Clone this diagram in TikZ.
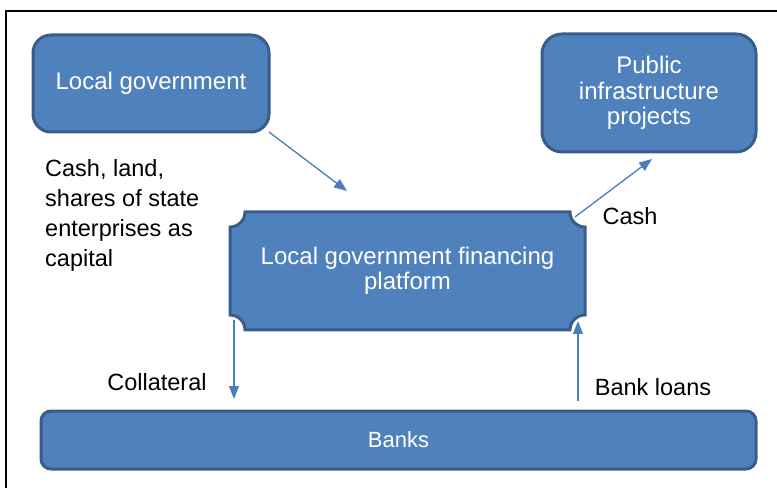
\documentclass[tikz,border=0pt]{standalone}
\usepackage{fontspec}
\setmainfont{Liberation Sans}
\usetikzlibrary{arrows.meta,backgrounds,calc}
\definecolor{boxfill}{HTML}{4F81BD}
\definecolor{boxline}{HTML}{385D8A}
\definecolor{flowline}{HTML}{4A7EBB}

\begin{document}
\begin{tikzpicture}[x=1pt,y=1pt]
    \tikzstyle{box}=[fill=boxfill,draw=boxline,line width=3pt,text=white,align=center,inner sep=0pt,outer sep=0pt,font=\fontsize{24}{25.5}\selectfont]
    \tikzstyle{plaque}=[fill=boxfill,draw=boxline,line width=3pt]
    \tikzstyle{flow}=[draw=flowline,line width=1.3pt,-{Triangle[length=13pt,width=10pt]}]
    \tikzstyle{note}=[inner sep=0pt,align=left,font=\fontsize{23.5}{30}\selectfont]
    \useasboundingbox (0,0) rectangle (777,488);
    \draw[line width=1.2pt] (6,0) -- (6,477) -- (777,477);
    \node[box,rounded corners=18pt,minimum width=236pt,minimum height=97pt] (lg) at (151,404.5) {Local government};
    \node[box,rounded corners=20pt,minimum width=214pt,minimum height=118pt,text depth=5pt] (pub) at (649,395) {Public\\infrastructure\\projects};
    \node[box,draw=none,fill=none,minimum width=355pt,minimum height=118pt,text depth=5pt] (lgfp) at (407.5,217) {Local government financing\\platform};
    \node[box,rounded corners=10pt,minimum width=715pt,minimum height=58pt,font=\fontsize{22}{24}\selectfont] (banks) at (398.5,48) {Banks};
    \begin{pgfonlayer}{background}
    \draw[plaque] ($(lgfp.north west)+(15pt,0)$) -- ($(lgfp.north east)+(-15pt,0)$)
        arc[start angle=180,end angle=270,radius=15pt] -- ($(lgfp.south east)+(0,15pt)$)
        arc[start angle=90,end angle=180,radius=15pt] -- ($(lgfp.south west)+(15pt,0)$)
        arc[start angle=0,end angle=90,radius=15pt] -- ($(lgfp.north west)+(0,-15pt)$)
        arc[start angle=-90,end angle=0,radius=15pt] -- cycle;
    \end{pgfonlayer}
    \node[note,anchor=west] (capital) at (45,272.5) {Cash, land,\\shares of state\\enterprises as\\capital};
    \node[note] (cash) at (630,272) {Cash};
    \node[note] (collateral) at (157,106) {Collateral};
    \node[note] (loans) at (653,101) {Bank loans};
    \coordinate (lgend) at (347,297);
    \draw[flow] (lg.south east) -- (lgend);
    \draw[flow] ([shift={(-10pt,-5pt)}]lgfp.north east) -- ([shift={(3pt,-7pt)}]pub.south);
    \draw[flow] ([shift={(4pt,10pt)}]lgfp.south west) -- ([shift={(4pt,12pt)}]banks.north -| lgfp.south west);
    \draw[flow] ([shift={(-7pt,10pt)}]banks.north -| lgfp.south east) -- ([shift={(-7pt,9pt)}]lgfp.south east);
\end{tikzpicture}
\end{document}
